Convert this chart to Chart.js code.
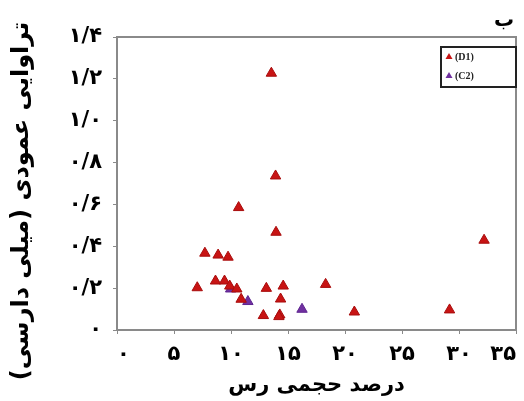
<!DOCTYPE html>
<html>
<head>
<meta charset="utf-8">
<script src="https://cdn.jsdelivr.net/npm/chart.js@4/dist/chart.umd.min.js"></script>
<style>
  html, body { margin: 0; padding: 0; background: #fff; }
  #wrap { width: 524px; height: 401px; }
</style>
</head>
<body>
<div id="wrap"><canvas id="permChart"></canvas></div>
<script>
  // clay content (%) vs vertical permeability (mD)
  const d1X = [13.54, 13.91, 10.67, 13.95, 32.2, 7.71, 8.87, 9.74, 7.04, 8.64, 9.43, 9.89, 10.51,
               10.89, 13.10, 14.58, 14.35, 18.30, 12.84, 14.28, 14.2, 20.82, 29.17];
  const d1Y = [1.227, 0.736, 0.585, 0.467, 0.429, 0.367, 0.358, 0.348, 0.202, 0.234, 0.234, 0.21, 0.196,
               0.147, 0.199, 0.21, 0.148, 0.218, 0.069, 0.072, 0.064, 0.086, 0.096];
  const c2X = [9.97, 11.48, 16.23];
  const c2Y = [0.196, 0.136, 0.099];

  const seriesLabels = ["(D1)", "(C2)"];
  const xTickLabels = ["۰", "۵", "۱۰", "۱۵", "۲۰", "۲۵", "۳۰", "۳۵"];
  const yTickLabels = ["۰", "۰/۲", "۰/۴", "۰/۶", "۰/۸", "۱/۰", "۱/۲", "۱/۴"];
  const xTitle = "درصد حجمی رس";
  const yTitle = "تراوایی عمودی (میلی دارسی)";
  const panelLabel = "ب";

  const RED = "#c81414";
  const PURPLE = "#7030a0";
  const FA_FONT = "'DejaVu Sans', sans-serif";

  const toPoints = (xs, ys) => xs.map((x, i) => ({ x, y: ys[i] }));

  // frame around the plot, legend box, panel letter and the vertical axis title
  const decor = {
    id: "decor",
    beforeDatasetsDraw(chart) {
      const { ctx, chartArea: a } = chart;
      ctx.save();
      ctx.strokeStyle = "#8a8a8a";
      ctx.lineWidth = 2;
      ctx.strokeRect(a.left, a.top, a.right - a.left, a.bottom - a.top);
      ctx.restore();
    },
    afterDraw(chart) {
      const { ctx } = chart;
      ctx.save();
      // legend
      const bx = 441, by = 47, bw = 75, bh = 40;
      ctx.fillStyle = "#fff";
      ctx.fillRect(bx, by, bw, bh);
      ctx.strokeStyle = "#222";
      ctx.lineWidth = 2;
      ctx.strokeRect(bx, by, bw, bh);
      chart.data.datasets.forEach((ds, i) => {
        const cy = by + 10 + i * 19;
        ctx.fillStyle = ds.backgroundColor;
        ctx.beginPath();
        ctx.moveTo(bx + 8, cy - 4);
        ctx.lineTo(bx + 11.5, cy + 2);
        ctx.lineTo(bx + 4.5, cy + 2);
        ctx.closePath();
        ctx.fill();
        ctx.fillStyle = "#222";
        ctx.font = "bold 10px 'Liberation Serif', serif";
        ctx.textBaseline = "middle";
        ctx.textAlign = "left";
        ctx.fillText(ds.label, bx + 14, cy);
      });
      // panel letter
      ctx.fillStyle = "#000";
      ctx.font = "bold 20px " + FA_FONT;
      ctx.textAlign = "center";
      ctx.textBaseline = "alphabetic";
      ctx.fillText(panelLabel, 504, 26);
      // y title, runs a bit lower than the plot centre
      ctx.translate(22, 201);
      ctx.rotate(-Math.PI / 2);
      ctx.font = "bold 24px " + FA_FONT;
      ctx.textBaseline = "middle";
      ctx.fillText(yTitle, 0, 0);
      ctx.restore();
    }
  };

  new Chart(document.getElementById("permChart"), {
    type: "scatter",
    data: {
      datasets: [
        {
          label: seriesLabels[0],
          data: toPoints(d1X, d1Y),
          backgroundColor: RED,
          borderColor: "#a80c0c",
          borderWidth: 1,
          pointStyle: "triangle",
          pointRadius: 6
        },
        {
          label: seriesLabels[1],
          data: toPoints(c2X, c2Y),
          backgroundColor: PURPLE,
          borderColor: "#5e2590",
          borderWidth: 1,
          pointStyle: "triangle",
          pointRadius: 6
        }
      ]
    },
    options: {
      responsive: true,
      maintainAspectRatio: false,
      animation: false,
      layout: { padding: { top: 37, right: 4, left: 0, bottom: 0 } },
      plugins: {
        legend: { display: false },
        tooltip: { enabled: false }
      },
      scales: {
        x: {
          type: "linear",
          min: 0,
          max: 35,
          afterFit: s => { s.height = 71; },
          border: { display: false },
          grid: { drawOnChartArea: false, tickLength: 4, color: "#8a8a8a", lineWidth: 1 },
          ticks: {
            stepSize: 5,
            align: "inner",
            padding: 8,
            color: "#000",
            font: { family: FA_FONT, size: 21, weight: "bold" },
            callback: (v, i) => xTickLabels[i]
          },
          title: {
            display: true,
            text: xTitle,
            color: "#000",
            font: { family: FA_FONT, size: 21, weight: "bold" },
            padding: { top: 0, bottom: 3 }
          }
        },
        y: {
          type: "linear",
          min: 0,
          max: 1.4,
          afterFit: s => { s.width = 117; },
          border: { display: false },
          grid: { drawOnChartArea: false, tickLength: 4, color: "#8a8a8a", lineWidth: 1 },
          ticks: {
            stepSize: 0.2,
            padding: 11,
            color: "#000",
            font: { family: FA_FONT, size: 21, weight: "bold" },
            callback: (v, i) => yTickLabels[i]
          }
        }
      }
    },
    plugins: [decor]
  });
</script>
</body>
</html>
